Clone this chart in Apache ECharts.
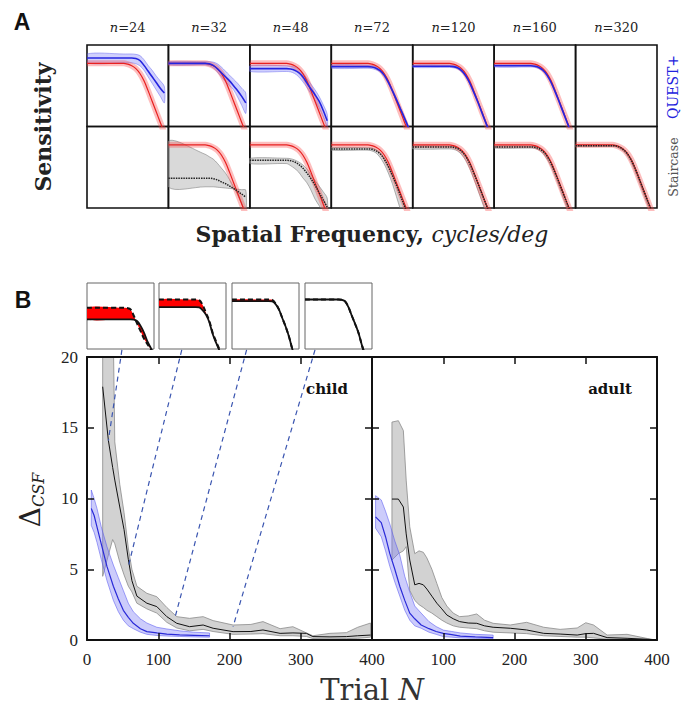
<!DOCTYPE html>
<html>
<head>
<meta charset="utf-8">
<script src="https://cdn.jsdelivr.net/npm/echarts@6/dist/echarts.min.js"></script>
<style>
  html, body { margin: 0; padding: 0; background: #fff; }
  #chart { width: 691px; height: 709px; }
</style>
</head>
<body>
<div id="chart"></div>
<script>
// ---------- panel A : CSF estimates, cell units (x 0..1 left->right, y 0..1 bottom->top)
const SAMPLE_N = [24, 32, 48, 72, 120, 160, 320];
const CURVE_X = [0, 0.45, 0.5, 0.55, 0.6, 0.65, 0.7, 0.75, 0.8, 0.85, 0.9, 0.95];
const TRUE_CSF = [0.775, 0.775, 0.765, 0.745, 0.71, 0.65, 0.56, 0.44, 0.31, 0.18, 0.05, -0.08];

const QUEST_MEAN = [
  [0.84, 0.84, 0.84, 0.84, 0.835, 0.81, 0.75, 0.68, 0.61, 0.54, 0.47, 0.41],
  [0.775, 0.775, 0.77, 0.75, 0.71, 0.66, 0.61, 0.56, 0.5, 0.44, 0.37, 0.29],
  [0.71, 0.71, 0.705, 0.69, 0.66, 0.61, 0.535, 0.46, 0.39, 0.31, 0.2, 0.07],
  [0.735, 0.735, 0.73, 0.715, 0.685, 0.63, 0.545, 0.44, 0.33, 0.215, 0.1, -0.02],
  [0.74, 0.74, 0.735, 0.72, 0.685, 0.625, 0.535, 0.42, 0.3, 0.17, 0.04, -0.09],
  [0.745, 0.745, 0.74, 0.725, 0.69, 0.63, 0.54, 0.425, 0.3, 0.17, 0.04, -0.09],
  null
];
const QUEST_HI = [
  [0.89, 0.89, 0.89, 0.89, 0.885, 0.87, 0.82, 0.75, 0.69, 0.62, 0.56, 0.49],
  [0.795, 0.795, 0.795, 0.79, 0.77, 0.73, 0.68, 0.63, 0.58, 0.53, 0.47, 0.41],
  [0.745, 0.745, 0.74, 0.73, 0.71, 0.66, 0.59, 0.52, 0.45, 0.37, 0.27, 0.15],
  [0.755, 0.755, 0.75, 0.735, 0.705, 0.65, 0.565, 0.46, 0.35, 0.235, 0.12, 0],
  [0.755, 0.755, 0.75, 0.735, 0.7, 0.64, 0.55, 0.435, 0.315, 0.185, 0.055, -0.075],
  [0.76, 0.76, 0.755, 0.74, 0.705, 0.645, 0.555, 0.44, 0.315, 0.185, 0.055, -0.075],
  null
];
const QUEST_LO = [
  [0.78, 0.78, 0.78, 0.78, 0.77, 0.745, 0.69, 0.61, 0.53, 0.45, 0.37, 0.29],
  [0.755, 0.755, 0.745, 0.72, 0.67, 0.61, 0.55, 0.5, 0.45, 0.36, 0.26, 0.16],
  [0.675, 0.675, 0.67, 0.65, 0.61, 0.55, 0.48, 0.4, 0.32, 0.23, 0.12, 0],
  [0.715, 0.715, 0.71, 0.695, 0.665, 0.61, 0.525, 0.42, 0.31, 0.195, 0.08, -0.04],
  [0.725, 0.725, 0.72, 0.705, 0.67, 0.61, 0.52, 0.405, 0.285, 0.155, 0.025, -0.105],
  [0.73, 0.73, 0.725, 0.71, 0.675, 0.615, 0.525, 0.41, 0.285, 0.155, 0.025, -0.105],
  null
];

const STAIR_MEAN = [
  null,
  [0.365, 0.365, 0.365, 0.36, 0.345, 0.32, 0.3, 0.27, 0.24, 0.205, 0.17, 0.135],
  [0.585, 0.585, 0.58, 0.565, 0.535, 0.49, 0.43, 0.36, 0.28, 0.19, 0.1, 0.01],
  [0.725, 0.725, 0.72, 0.7, 0.665, 0.6, 0.51, 0.4, 0.28, 0.15, 0.02, -0.1],
  [0.75, 0.75, 0.745, 0.73, 0.695, 0.635, 0.545, 0.43, 0.305, 0.175, 0.045, -0.08],
  [0.75, 0.75, 0.745, 0.73, 0.695, 0.635, 0.545, 0.43, 0.305, 0.175, 0.045, -0.08],
  [0.765, 0.765, 0.76, 0.74, 0.705, 0.645, 0.555, 0.44, 0.31, 0.18, 0.05, -0.07]
];
const STAIR_HI = [
  null,
  [0.82, 0.66, 0.63, 0.6, 0.55, 0.49, 0.43, 0.35, 0.26, 0.16, 0.05, -0.05],
  [0.61, 0.61, 0.605, 0.59, 0.565, 0.53, 0.48, 0.41, 0.34, 0.27, 0.2, 0.12],
  [0.74, 0.74, 0.735, 0.715, 0.68, 0.615, 0.525, 0.415, 0.3, 0.17, 0.045, -0.08],
  [0.76, 0.76, 0.755, 0.74, 0.705, 0.645, 0.555, 0.44, 0.315, 0.185, 0.055, -0.07],
  [0.76, 0.76, 0.755, 0.74, 0.705, 0.645, 0.555, 0.44, 0.315, 0.185, 0.055, -0.07],
  [0.775, 0.775, 0.77, 0.75, 0.715, 0.655, 0.565, 0.45, 0.32, 0.19, 0.06, -0.06]
];
const STAIR_LO = [
  null,
  [0.26, 0.26, 0.26, 0.26, 0.255, 0.25, 0.245, 0.24, 0.235, 0.23, 0.225, 0.22],
  [0.545, 0.545, 0.52, 0.485, 0.44, 0.37, 0.31, 0.22, 0.11, 0.03, -0.05, -0.15],
  [0.71, 0.71, 0.7, 0.675, 0.62, 0.54, 0.43, 0.3, 0.14, -0.02, -0.15, -0.3],
  [0.725, 0.725, 0.72, 0.7, 0.655, 0.585, 0.485, 0.36, 0.22, 0.08, -0.06, -0.2],
  [0.735, 0.735, 0.73, 0.71, 0.67, 0.6, 0.51, 0.39, 0.26, 0.12, -0.01, -0.14],
  [0.755, 0.755, 0.75, 0.725, 0.685, 0.62, 0.52, 0.4, 0.27, 0.13, 0, -0.13]
];

// ---------- panel B insets (true = dashed, estimate = solid)
const INSET_X = [0, 0.5, 0.55, 0.6, 0.65, 0.7, 0.75, 0.8, 0.85, 0.9, 0.95, 1];
const INSET_TRUE = [
  [0.625, 0.625, 0.625, 0.62, 0.6, 0.5, 0.38, 0.27, 0.16, 0.075, 0, -0.1],
  [0.75, 0.75, 0.75, 0.74, 0.67, 0.55, 0.43, 0.25, 0.12, 0, -0.12, -0.25],
  [0.75, 0.75, 0.75, 0.745, 0.69, 0.6, 0.47, 0.34, 0.19, 0, -0.15, -0.3],
  [0.75, 0.75, 0.745, 0.72, 0.63, 0.5, 0.375, 0.24, 0.055, -0.1, -0.25, -0.4]
];
const INSET_EST = [
  [0.45, 0.45, 0.45, 0.45, 0.45, 0.445, 0.42, 0.35, 0.25, 0.12, 0.02, -0.08],
  [0.635, 0.635, 0.635, 0.63, 0.59, 0.52, 0.41, 0.23, 0.1, -0.02, -0.14, -0.26],
  [0.725, 0.725, 0.725, 0.72, 0.68, 0.6, 0.47, 0.34, 0.19, 0, -0.15, -0.3],
  [0.75, 0.75, 0.745, 0.72, 0.63, 0.5, 0.375, 0.24, 0.055, -0.1, -0.25, -0.4]
];

// ---------- panel B : error vs trial
const CHILD_STAIR_N = [22, 30, 36, 39, 46, 52, 58, 63, 70, 84, 98, 112, 126, 144, 163, 177, 205, 230, 247, 271, 289, 308, 317, 341, 364, 380, 398];
const CHILD_STAIR_MEAN = [17.9, 14.1, 12.2, 11.3, 9.4, 7.8, 5.7, 4.2, 3.1, 2.6, 2.36, 1.65, 1.18, 0.94, 1.06, 0.83, 0.59, 0.6, 0.71, 0.47, 0.5, 0.47, 0.24, 0.22, 0.24, 0.3, 0.35];
const CHILD_STAIR_HI = [25, 25, 25, 14, 11, 9, 6.5, 5, 3.8, 3.3, 3.06, 2.3, 1.65, 1.53, 1.65, 1.37, 1.06, 1.1, 1.3, 0.8, 0.94, 0.5, 0.3, 0.47, 0.52, 0.9, 1.2];
const CHILD_STAIR_LO = [4.5, 6.0, 7.1, 6.8, 5.5, 4.6, 3.8, 3.4, 2.6, 2.2, 1.9, 1.25, 0.85, 0.65, 0.75, 0.6, 0.4, 0.42, 0.45, 0.3, 0.3, 0.25, 0.1, 0.08, 0.1, 0.12, 0.2];

const CHILD_QUEST_N = [6, 10, 14, 20, 28, 37, 44, 51, 58, 65, 75, 84, 98, 112, 130, 150, 172];
const CHILD_QUEST_MEAN = [9.3, 8.8, 8.0, 6.8, 5.2, 3.8, 2.9, 2.1, 1.6, 1.18, 0.8, 0.59, 0.5, 0.42, 0.36, 0.33, 0.3];
const CHILD_QUEST_HI = [10.6, 10.0, 9.3, 8.0, 6.6, 5.3, 4.4, 3.5, 2.6, 2.0, 1.5, 1.2, 0.9, 0.78, 0.65, 0.55, 0.5];
const CHILD_QUEST_LO = [8.1, 7.6, 6.9, 5.7, 4.2, 2.8, 2.0, 1.4, 1.0, 0.8, 0.55, 0.4, 0.32, 0.28, 0.25, 0.22, 0.2];

const ADULT_STAIR_N = [28, 37, 44, 48, 53, 60, 66, 72, 77, 84, 91, 98, 105, 114, 123, 135, 147, 158, 170, 194, 217, 241, 264, 288, 300, 311, 330, 358, 387, 398];
const ADULT_STAIR_MEAN = [9.96, 9.96, 9.4, 7.5, 5.65, 3.9, 4.0, 3.9, 3.6, 3.1, 2.6, 2.2, 1.77, 1.5, 1.3, 1.2, 1.18, 1.0, 0.9, 0.83, 0.71, 0.47, 0.42, 0.35, 0.45, 0.47, 0.17, 0.12, 0.05, 0.02];
const ADULT_STAIR_HI = [15.4, 15.5, 14.8, 11.3, 8.0, 6.1, 6.3, 6.2, 5.8, 5.0, 4.0, 3.0, 2.4, 1.9, 1.65, 1.7, 1.84, 1.4, 1.18, 1.06, 1.25, 0.9, 0.75, 0.85, 1.22, 1.06, 0.35, 0.4, 0.1, 0];
const ADULT_STAIR_LO = [5.65, 6.1, 6.3, 6.6, 3.5, 2.8, 2.5, 2.3, 2.1, 1.9, 1.65, 1.4, 1.2, 1.0, 0.9, 0.85, 0.8, 0.65, 0.55, 0.5, 0.45, 0.3, 0.25, 0.2, 0.2, 0.15, 0.05, 0.02, 0, 0];

const ADULT_QUEST_N = [5, 13, 19, 25, 32, 39, 46, 53, 60, 69, 80, 90, 100, 112, 124, 145, 170];
const ADULT_QUEST_MEAN = [8.7, 8.3, 7.3, 6.1, 5.0, 3.8, 2.8, 1.9, 1.5, 1.06, 0.8, 0.6, 0.47, 0.38, 0.28, 0.22, 0.17];
const ADULT_QUEST_HI = [10.2, 9.9, 9.1, 8.2, 7.0, 6.0, 4.5, 3.4, 2.4, 1.9, 1.3, 0.95, 0.7, 0.6, 0.5, 0.4, 0.35];
const ADULT_QUEST_LO = [7.9, 7.3, 6.3, 5.2, 4.1, 3.1, 2.1, 1.4, 1.0, 0.83, 0.55, 0.4, 0.24, 0.2, 0.15, 0.12, 0.1];

// dashed links from the insets down to the child curve
const LINK_FROM_N = [49, 133, 224, 320];
const LINK_TOP_D = 20.5;
const LINK_TO_N = [30, 58, 123, 205];
const LINK_TO_D = [14.1, 5.2, 1.5, 0.94];

// ---------- helpers
const SERIF = '"DejaVu Serif"';

function pairs(xs, ys) {
  return xs.map((x, i) => [x, ys[i]]);
}

function band(axis, xs, lo, hi, style, smooth, z) {
  return {
    type: 'custom',
    xAxisIndex: axis, yAxisIndex: axis,
    clip: true, silent: true, z: z || 1,
    data: [[xs[0], 0]],
    renderItem: function (params, api) {
      let pts = [];
      for (let i = 0; i < xs.length; i++) pts.push(api.coord([xs[i], hi[i]]));
      for (let i = xs.length - 1; i >= 0; i--) pts.push(api.coord([xs[i], lo[i]]));
      return {
        type: 'polygon',
        shape: { points: pts, smooth: smooth || 0 },
        style: style
      };
    }
  };
}

function line(axis, xs, ys, ls, smooth, z) {
  return {
    type: 'line',
    xAxisIndex: axis, yAxisIndex: axis,
    data: pairs(xs, ys),
    symbol: 'none', showSymbol: false,
    smooth: smooth || false,
    lineStyle: ls, silent: true, z: z || 2
  };
}

let grids = [], xAxes = [], yAxes = [], series = [];

// panel A cells
const CELL_W = 570 / 7, CELL_H = 81.5;
for (let r = 0; r < 2; r++) {
  for (let c = 0; c < 7; c++) {
    grids.push({
      left: 87 + c * CELL_W, top: 45 + r * CELL_H, width: CELL_W, height: CELL_H,
      show: true, borderColor: '#111', borderWidth: 1.6, outerBoundsMode: 'none'
    });
  }
}
// insets
const INSET_LEFT = [87, 159, 232, 305];
INSET_LEFT.forEach(l => grids.push({
  left: l, top: 283, width: 67, height: 66,
  show: true, borderColor: '#666', borderWidth: 1, outerBoundsMode: 'none'
}));
for (let g = 0; g < 18; g++) {
  xAxes.push({ gridIndex: g, type: 'value', min: 0, max: 1, show: false });
  yAxes.push({ gridIndex: g, type: 'value', min: 0, max: 1, show: false });
}
// main child / adult grids
grids.push({ left: 87, top: 357, width: 285, height: 283, outerBoundsMode: 'none' });
grids.push({ left: 372, top: 357, width: 285, height: 283, outerBoundsMode: 'none' });

const axLine = { show: true, onZero: false, lineStyle: { color: '#111', width: 2 } };
const axTick = { show: true, inside: true, length: 7, lineStyle: { color: '#111', width: 1.5 } };

[18, 19].forEach((g, k) => {
  xAxes.push({
    gridIndex: g, type: 'value', position: 'bottom', min: 0, max: 400, interval: 100, z: 5,
    axisLine: axLine, axisTick: axTick, splitLine: { show: false },
    axisLabel: {
      margin: 11, showMinLabel: true, showMaxLabel: true,
      color: '#222', fontFamily: 'Liberation Serif', fontSize: 17,
      formatter: v => (k === 1 && v === 0) ? '' : String(v)
    }
  });
  xAxes.push({
    gridIndex: g, type: 'value', position: 'top', min: 0, max: 400, interval: 100, z: 5,
    axisLine: axLine, axisTick: axTick, splitLine: { show: false }, axisLabel: { show: false }
  });
  yAxes.push({
    gridIndex: g, type: 'value', position: 'left', min: 0, max: 20, interval: 5, z: 5,
    axisLine: axLine, axisTick: axTick, splitLine: { show: false },
    axisLabel: { show: k === 0, margin: 9, color: '#222', fontFamily: 'Liberation Serif', fontSize: 17 }
  });
  yAxes.push({
    gridIndex: g, type: 'value', position: 'right', min: 0, max: 20, interval: 5, z: 5,
    axisLine: axLine, axisTick: axTick, splitLine: { show: false }, axisLabel: { show: false }
  });
});

// panel A series
const redBand = { color: 'rgba(250,70,70,0.35)', width: 6 };
const redLine = { color: '#e82020', width: 1.2 };
for (let c = 0; c < 7; c++) {
  // top row: QUEST+
  if (QUEST_MEAN[c]) {
    const a = c;
    series.push(band(a, CURVE_X, QUEST_LO[c], QUEST_HI[c],
      { fill: 'rgba(120,120,250,0.35)', stroke: 'rgba(90,90,240,0.55)', lineWidth: 0.8 }, 0.3, 1));
    series.push(line(a, CURVE_X, TRUE_CSF, redBand, 0.35, 2));
    series.push(line(a, CURVE_X, TRUE_CSF, redLine, 0.35, 3));
    series.push(line(a, CURVE_X, QUEST_MEAN[c], { color: '#2424e0', width: 1.6 }, 0.35, 4));
  }
  // bottom row: staircase
  if (STAIR_MEAN[c]) {
    const a = 7 + c;
    series.push(band(a, CURVE_X, STAIR_LO[c], STAIR_HI[c],
      { fill: 'rgba(170,170,170,0.45)', stroke: 'rgba(120,120,120,0.7)', lineWidth: 0.8 }, 0.3, 1));
    series.push(line(a, CURVE_X, TRUE_CSF, redBand, 0.35, 2));
    series.push(line(a, CURVE_X, TRUE_CSF, redLine, 0.35, 3));
    series.push(line(a, CURVE_X, STAIR_MEAN[c], { color: '#222', width: 1.5, type: [1.5, 1] }, 0.35, 4));
  }
}

// insets
for (let k = 0; k < 4; k++) {
  const a = 14 + k;
  series.push(band(a, INSET_X, INSET_EST[k], INSET_TRUE[k], { fill: '#ff0000' }, 0.3, 1));
  series.push(line(a, INSET_X, INSET_EST[k], { color: '#111', width: 1.8 }, 0.35, 3));
  series.push(line(a, INSET_X, INSET_TRUE[k], { color: '#111', width: 2, type: [5, 3] }, 0.35, 4));
}

// child / adult
const grayFill = { fill: '#d2d2d2', stroke: '#8a8a8a', lineWidth: 0.8 };
const blueFill = { fill: 'rgba(120,120,245,0.38)', stroke: 'rgba(80,80,240,0.65)', lineWidth: 0.8 };
series.push(band(18, CHILD_STAIR_N, CHILD_STAIR_LO, CHILD_STAIR_HI, grayFill, 0, 1));
series.push(line(18, CHILD_STAIR_N, CHILD_STAIR_MEAN, { color: '#111', width: 1 }, false, 3));
series.push(band(18, CHILD_QUEST_N, CHILD_QUEST_LO, CHILD_QUEST_HI, blueFill, 0, 2));
series.push(line(18, CHILD_QUEST_N, CHILD_QUEST_MEAN, { color: '#2a2ad8', width: 1.2 }, false, 3));
series.push(band(20, ADULT_STAIR_N, ADULT_STAIR_LO, ADULT_STAIR_HI, grayFill, 0, 1));
series.push(line(20, ADULT_STAIR_N, ADULT_STAIR_MEAN, { color: '#111', width: 1 }, false, 3));
series.push(band(20, ADULT_QUEST_N, ADULT_QUEST_LO, ADULT_QUEST_HI, blueFill, 0, 2));
series.push(line(20, ADULT_QUEST_N, ADULT_QUEST_MEAN, { color: '#2a2ad8', width: 1.2 }, false, 3));

for (let k = 0; k < 4; k++) {
  const s = line(18, [LINK_FROM_N[k], LINK_TO_N[k]], [LINK_TOP_D, LINK_TO_D[k]],
    { color: '#3a55b0', width: 1.2, type: [5, 4] }, false, 6);
  s.clip = false;
  series.push(s);
}

// ---------- texts
let texts = [
  { type: 'text', x: 22, y: 22, style: { text: 'A', font: 'bold 23px "Liberation Sans"', fill: '#111', align: 'center', verticalAlign: 'middle' } },
  { type: 'text', x: 23, y: 300, style: { text: 'B', font: 'bold 23px "Liberation Sans"', fill: '#111', align: 'center', verticalAlign: 'middle' } },
  { type: 'text', x: 43, y: 127, rotation: Math.PI / 2,
    style: { text: 'Sensitivity', font: 'bold 22px ' + SERIF, fill: '#222', align: 'center', verticalAlign: 'middle' } },
  { type: 'text', x: 372, y: 234,
    style: { text: '{b|Spatial Frequency, }{i|cycles/deg}', align: 'center', verticalAlign: 'middle',
      rich: { b: { fontFamily: 'DejaVu Serif', fontWeight: 'bold', fontSize: 22, fill: '#222' },
              i: { fontFamily: 'DejaVu Serif', fontStyle: 'italic', fontSize: 22, fill: '#222' } } } },
  { type: 'text', x: 673, y: 87, rotation: Math.PI / 2,
    style: { text: 'QUEST+', font: '14px ' + SERIF, fill: '#2222dd', align: 'center', verticalAlign: 'middle' } },
  { type: 'text', x: 673, y: 167, rotation: Math.PI / 2,
    style: { text: 'Staircase', font: '12.5px ' + SERIF, fill: '#555', align: 'center', verticalAlign: 'middle' } },
  { type: 'text', x: 327, y: 389, style: { text: 'child', font: 'bold 15px ' + SERIF, fill: '#111', align: 'center', verticalAlign: 'middle' } },
  { type: 'text', x: 610, y: 389, style: { text: 'adult', font: 'bold 15px ' + SERIF, fill: '#111', align: 'center', verticalAlign: 'middle' } },
  { type: 'text', x: 30, y: 500, rotation: Math.PI / 2,
    style: { text: '{d|Δ}{s|CSF}', align: 'center', verticalAlign: 'middle',
      rich: { d: { fontFamily: 'DejaVu Serif', fontSize: 28, fill: '#222', lineHeight: 32 },
              s: { fontFamily: 'DejaVu Serif', fontStyle: 'italic', fontSize: 16, fill: '#222', verticalAlign: 'bottom', padding: [10, 0, 0, 0] } } } },
  { type: 'text', x: 372, y: 690,
    style: { text: '{r|Trial }{i|N}', align: 'center', verticalAlign: 'middle',
      rich: { r: { fontFamily: 'DejaVu Serif', fontSize: 29, fill: '#333' },
              i: { fontFamily: 'DejaVu Serif', fontStyle: 'italic', fontSize: 29, fill: '#333' } } } }
];
SAMPLE_N.forEach((n, c) => texts.push({
  type: 'text', x: 87 + (c + 0.5) * CELL_W, y: 27,
  style: { text: '{i|n}{r|=' + n + '}', align: 'center', verticalAlign: 'middle',
    rich: { i: { fontFamily: 'DejaVu Serif', fontStyle: 'italic', fontSize: 13, fill: '#222' },
            r: { fontFamily: 'DejaVu Serif', fontSize: 13, fill: '#222' } } }
}));

const chart = echarts.init(document.getElementById('chart'), null, { renderer: 'svg' });
chart.setOption({
  animation: false,
  backgroundColor: '#fff',
  grid: grids,
  xAxis: xAxes,
  yAxis: yAxes,
  series: series,
  graphic: texts
});
</script>
</body>
</html>
